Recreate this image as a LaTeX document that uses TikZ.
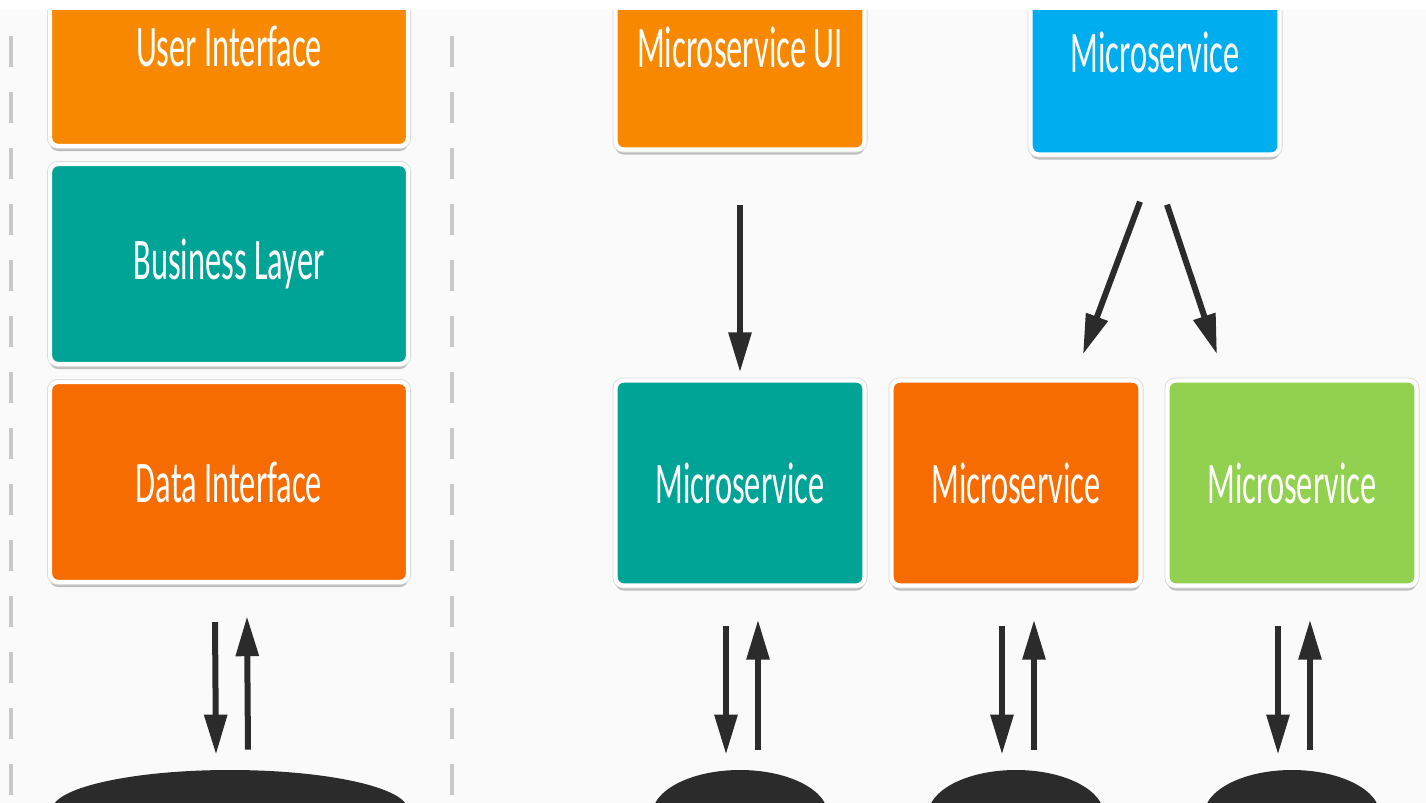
\documentclass[tikz,border=0pt]{standalone}
\usepackage{fontspec}
\usetikzlibrary{shapes.geometric,arrows.meta,positioning,calc,shadows}
\usepackage{xcolor}
\newfontfamily\boxfont[FakeStretch=0.55]{Carlito}
\definecolor{bgcustom}{RGB}{250,250,250}
\definecolor{uiorange}{RGB}{247,136,0}
\definecolor{dataorange}{RGB}{247,108,0}
\definecolor{tealcustom}{RGB}{0,164,150}
\definecolor{bluecustom}{RGB}{0,174,239}
\definecolor{greencustom}{RGB}{146,208,80}
\definecolor{darkcustom}{RGB}{43,43,43}
\definecolor{sepgray}{RGB}{200,200,200}

\tikzset{
    layer/.style={rectangle, draw=white, line width=2.2pt, rounded corners=4pt,
        text=white, font=\boxfont\fontsize{29.5}{32}\selectfont, align=center,
        drop shadow={shadow xshift=0pt, shadow yshift=-2.5pt, opacity=0.4, fill=black!60},
        preaction={draw=black!15, line width=3pt}},
    bigbox/.style={layer, minimum width=179pt, minimum height=100pt},
    smallbox/.style={layer, minimum width=124.5pt, minimum height=102.5pt},
    store/.style={ellipse, fill=darkcustom, inner sep=0pt},
    flow/.style={draw=darkcustom, line width=3pt, -{Triangle[length=20pt,width=11pt]}},
    sepline/.style={draw=sepgray, line width=2pt, dash pattern=on 15.5pt off 12.5pt}
}

\begin{document}
\begin{tikzpicture}[x=0.5pt, y=-0.5pt]
    \useasboundingbox (0,0) rectangle (1426,803);
    \fill[white] (0,0) rectangle (1426,803);
    \clip (0,10) rectangle (1426,803);
    \fill[bgcustom] (0,10) rectangle (1426,803);

    % monolith column between the dashed lines
    \draw[sepline] (11,36) -- (11,810);
    \draw[sepline] (452,36) -- (452,810);

    \node[bigbox, fill=uiorange] (ui) at (229,46) {User Interface};
    \node[bigbox, fill=tealcustom] (bl) at (229,264) {Business Layer};
    \node[bigbox, fill=dataorange] (di) at (229,482) {Data Interface};
    \node[store, minimum width=178pt, minimum height=40pt] (dbA) at (230,810) {};

    \draw[flow] ($(di.south)+(-14,38)$) -- ($(dbA.north)+(-14,-15)$);
    \draw[flow] ($(dbA.north)+(18,-20)$) -- ($(di.south)+(18,32)$);

    % microservices
    \node[smallbox, fill=uiorange] (msui) at (740,47) {Microservice UI};
    \node[smallbox, fill=bluecustom] (msb) at (1155,52) {Microservice};
    \node[smallbox, fill=tealcustom] (ms1) at (740,483) {Microservice};
    \node[smallbox, fill=dataorange] (ms2) at (1016,483) {Microservice};
    \node[smallbox, fill=greencustom] (ms3) at (1292,483) {Microservice};

    \draw[flow] ($(msui.south)+(0,53)$) -- ($(ms1.north)+(0,-6)$);
    \draw[flow] ($(msb.south)+(-15,45)$) -- ($(ms2.north)+(67,-24)$);
    \draw[flow] ($(msb.south)+(12,48)$) -- ($(ms3.north)+(-75,-24)$);

    \foreach \ms/\db/\xx in {ms1/dbB/740, ms2/dbC/1016, ms3/dbD/1292} {
        \node[store, minimum width=88pt, minimum height=45pt] (\db) at (\xx,815) {};
        \draw[flow] ($(\ms.south)+(-14,38)$) -- ($(\db.north)+(-14,-15)$);
        \draw[flow] ($(\db.north)+(18,-20)$) -- ($(\ms.south)+(18,32)$);
    }
\end{tikzpicture}
\end{document}
